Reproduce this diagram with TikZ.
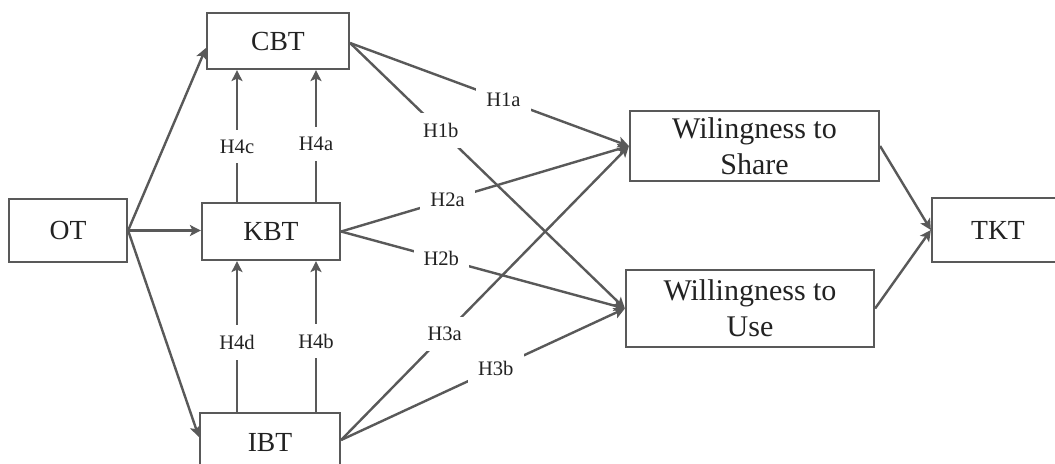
\documentclass[tikz,border=0pt]{standalone}
\usepackage{fontspec}
\setmainfont{Liberation Serif}
\usetikzlibrary{arrows.meta}
\definecolor{linegray}{HTML}{595959}
\definecolor{txt}{HTML}{222222}
\tikzset{
  box/.style={draw=linegray, line width=1.1pt, inner sep=0pt, align=center, text=txt,
              font=\fontsize{13.8}{16}\selectfont},
  wbox/.style={box, font=\fontsize{15}{18}\selectfont},
  arr/.style={draw=linegray, line width=1.2pt, -{Stealth[length=5.5pt,width=5.5pt,inset=1.3pt]}},
  lbl/.style={fill=white, inner xsep=5pt, inner ysep=5pt, text=txt,
              font=\fontsize{10.3}{12}\selectfont}
}
\begin{document}
\begin{tikzpicture}[x=0.5pt,y=-0.5pt]
\useasboundingbox (0,0) rectangle (1055,463);
\clip (0,0) rectangle (1055,463);
\fill[white] (0,0) rectangle (1055,463);

\node[box, minimum width=71pt, minimum height=28pt] (CBT) at (278,41) {CBT};
\node[box, minimum width=59pt, minimum height=31.5pt] (OT) at (68,230.5) {OT};
\node[box, minimum width=69pt, minimum height=28.5pt] (KBT) at (271,231.5) {KBT};
\node[box, minimum width=70pt, minimum height=29pt] (IBT) at (270,442) {IBT};
\node[wbox, minimum width=124.5pt, minimum height=35pt] (WS) at (754.5,146) {Wilingness to\\Share};
\node[wbox, minimum width=124pt, minimum height=38.5pt] (WU) at (750,308.5) {Willingness to\\Use};
\node[box, minimum width=66pt, minimum height=32pt] (TKT) at (998,230) {TKT};

\coordinate (xa) at (237,0);
\coordinate (xb) at (316,0);

% OT to the three trust nodes
\draw[arr] (OT.east) -- ([yshift=-3.5pt]CBT.west);
\draw[arr] (OT.east) -- (KBT.west |- OT.east);
\draw[arr] (OT.east) -- ([yshift=2.5pt]IBT.west);

% vertical H4 arrows
\draw[arr] (xa |- KBT.north) -- node[lbl, pos=0.42]{H4c} (xa |- CBT.south);
\draw[arr] (xb |- KBT.north) -- node[lbl, pos=0.44]{H4a} (xb |- CBT.south);
\draw[arr] (xa |- IBT.north) -- node[lbl, pos=0.46]{H4d} (xa |- KBT.south);
\draw[arr] (xb |- IBT.north) -- node[lbl, pos=0.47]{H4b} (xb |- KBT.south);

% to willingness
\draw[arr] ([yshift=-1pt]CBT.east) -- node[lbl, pos=0.55]{H1a} (WS.west);
\draw[arr] ([yshift=-1pt]CBT.east) -- node[lbl, pos=0.33]{H1b} (WU.west);
\draw[arr] (KBT.east) -- node[lbl, pos=0.37]{H2a} (WS.west);
\draw[arr] (KBT.east) -- node[lbl, pos=0.353]{H2b} (WU.west);
\draw[arr] ([yshift=1pt]IBT.east) -- node[lbl, pos=0.36]{H3a} (WS.west);
\draw[arr] ([yshift=1pt]IBT.east) -- node[lbl, pos=0.545]{H3b} (WU.west);

% to TKT
\draw[arr] (WS.east) -- (TKT.west);
\draw[arr] (WU.east) -- (TKT.west);
\end{tikzpicture}
\end{document}
